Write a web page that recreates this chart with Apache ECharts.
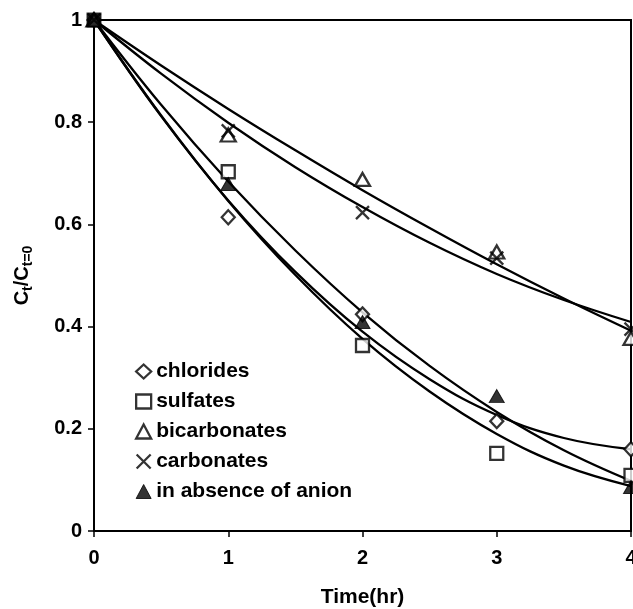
<!DOCTYPE html>
<html>
<head>
<meta charset="utf-8">
<script src="https://cdn.jsdelivr.net/npm/echarts@6/dist/echarts.min.js"></script>
<style>
  html, body { margin: 0; padding: 0; background: #fff; }
  #chart { width: 633px; height: 609px; }
</style>
</head>
<body>
<div id="chart"></div>
<script>
// Measured concentration ratio Ct/Ct=0 at each sampling time (hr)
const times = [0, 1, 2, 3, 4];
const chlorides    = [1, 0.614, 0.424, 0.215, 0.160];
const sulfates     = [1, 0.703, 0.363, 0.152, 0.109];
const bicarbonates = [1, 0.775, 0.688, 0.546, 0.377];
const carbonates   = [1, 0.783, 0.623, 0.534, 0.395];
const noAnion      = [1, 0.679, 0.409, 0.264, 0.086];

// Trend curves, sampled every half hour
const fitTimes        = [0, 0.5, 1, 1.5, 2, 2.5, 3, 3.5, 4];
const chloridesFit    = [1, 0.812, 0.647, 0.507, 0.390, 0.297, 0.227, 0.182, 0.160];
const sulfatesFit     = [1, 0.813, 0.646, 0.501, 0.376, 0.273, 0.190, 0.128, 0.088];
const bicarbonatesFit = [1, 0.911, 0.826, 0.745, 0.667, 0.593, 0.522, 0.455, 0.392];
const carbonatesFit   = [1, 0.895, 0.799, 0.712, 0.634, 0.564, 0.503, 0.452, 0.409];
const noAnionFit      = [1, 0.834, 0.684, 0.549, 0.428, 0.323, 0.233, 0.158, 0.098];

// Axis ranges
const xMin = 0, xMax = 4, xStep = 1;
const yMin = 0, yMax = 1, yStep = 0.2;

const FONT = '"Liberation Sans", Arial, Helvetica, sans-serif';
const CROSS = 'path://M0,0L12,12M12,0L0,12';

const openStyle = { color: '#fff', borderColor: '#000', borderWidth: 2.3 };
const crossStyle = { color: 'transparent', borderColor: '#000', borderWidth: 2.3 };
const solidStyle = { color: '#000', borderColor: '#000', borderWidth: 1 };

const pairs = (xs, ys) => xs.map((x, i) => [x, ys[i]]);

const markerSets = [
  { name: 'chlorides',             values: chlorides,    symbol: 'diamond',  size: [13, 14], style: openStyle },
  { name: 'sulfates',              values: sulfates,     symbol: 'rect',     size: 13,       style: openStyle },
  { name: 'bicarbonates',          values: bicarbonates, symbol: 'triangle', size: [15, 13], style: openStyle },
  { name: 'carbonates',            values: carbonates,   symbol: CROSS,      size: 13,       style: crossStyle },
  { name: 'in absence of anion',   values: noAnion,      symbol: 'triangle', size: [15, 13], style: solidStyle }
];
const fitSets = [chloridesFit, sulfatesFit, bicarbonatesFit, carbonatesFit, noAnionFit];

const series = [];
fitSets.forEach((vals, i) => {
  series.push({
    name: markerSets[i].name + ' fit',
    type: 'line',
    smooth: 0.4,
    showSymbol: false,
    silent: true,
    z: 2,
    lineStyle: { color: '#000', width: 2.3 },
    data: pairs(fitTimes, vals)
  });
});
markerSets.forEach((m) => {
  const data = pairs(times, m.values).map((p, i) => {
    // the starting point where all markers overlap renders as a solid block
    if (i === 0 && m.symbol === 'rect') {
      return { value: p, itemStyle: { color: '#000', borderColor: '#000', borderWidth: 2 } };
    }
    return p;
  });
  series.push({
    name: m.name,
    type: 'scatter',
    symbol: m.symbol,
    symbolSize: m.size,
    z: 5,
    itemStyle: m.style,
    emphasis: { disabled: true },
    data: data
  });
});

const chart = echarts.init(document.getElementById('chart'), null, { renderer: 'canvas' });
chart.setOption({
  animation: false,
  backgroundColor: '#fff',
  grid: {
    left: 94, right: 2, top: 20, bottom: 78,
    outerBoundsMode: 'none',
    containLabel: false,
    show: true, borderColor: '#000', borderWidth: 2, backgroundColor: 'transparent'
  },
  legend: {
    orient: 'vertical',
    left: 130, top: 356,
    padding: 5,
    itemWidth: 15, itemHeight: 14, itemGap: 9,
    selectedMode: false,
    textStyle: { fontSize: 21, fontWeight: 'bold', color: '#000', fontFamily: FONT, lineHeight: 21 },
    data: markerSets.map(m => ({
      name: m.name,
      icon: m.symbol,
      itemStyle: m.style
    }))
  },
  xAxis: {
    type: 'value',
    min: xMin, max: xMax, interval: xStep,
    name: 'Time(hr)',
    nameLocation: 'middle',
    nameGap: 56,
    nameTextStyle: { fontSize: 21, fontWeight: 'bold', color: '#000', fontFamily: FONT },
    axisLine: { show: true, lineStyle: { color: '#000', width: 2 } },
    axisTick: { show: true, inside: false, length: 6, lineStyle: { color: '#000', width: 1.5 } },
    axisLabel: { margin: 17, fontSize: 20, fontWeight: 'bold', color: '#000', fontFamily: FONT, showMaxLabel: true },
    splitLine: { show: false }
  },
  yAxis: {
    type: 'value',
    min: yMin, max: yMax, interval: yStep,
    name: '{m|C}{s|t}{m|/C}{s|t=0}',
    nameLocation: 'middle',
    nameRotate: 90,
    nameGap: 59,
    nameTextStyle: {
      rich: {
        m: { fontSize: 20, fontWeight: 'bold', color: '#000', fontFamily: FONT, lineHeight: 26 },
        s: { fontSize: 14, fontWeight: 'bold', color: '#000', fontFamily: FONT, lineHeight: 14, verticalAlign: 'bottom' }
      }
    },
    axisLine: { show: true, lineStyle: { color: '#000', width: 2 } },
    axisTick: { show: true, inside: false, length: 6, lineStyle: { color: '#000', width: 1.5 } },
    axisLabel: { margin: 12, fontSize: 20, fontWeight: 'bold', color: '#000', fontFamily: FONT },
    splitLine: { show: false }
  },
  series: series
});
</script>
</body>
</html>
